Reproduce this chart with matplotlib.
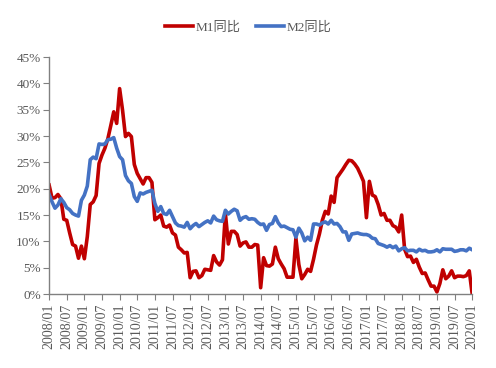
import numpy as np
import matplotlib
matplotlib.use("Agg")
import matplotlib.pyplot as plt
from matplotlib.ticker import FuncFormatter

plt.rcParams['font.family'] = ['Liberation Serif', 'Noto Sans CJK SC']

# M1同比 / M2同比 月度数据 2008/01 - 2020/01 (%)
m1 = [20.7, 18.2, 18.3, 18.9, 18.1, 14.2, 14.0, 11.6, 9.4, 9.1, 6.8, 9.1,
      6.7, 10.9, 17.0, 17.5, 18.7, 24.8, 26.4, 27.7, 29.5, 32.0, 34.6, 32.4,
      39.0, 34.9, 29.9, 30.5, 29.9, 24.6, 22.9, 21.9, 20.9, 22.1, 22.1, 21.2,
      14.1, 14.5, 15.0, 12.9, 12.7, 13.1, 11.6, 11.2, 8.9, 8.4, 7.8, 7.9,
      3.1, 4.3, 4.4, 3.1, 3.5, 4.7, 4.6, 4.5, 7.3, 6.1, 5.5, 6.5,
      15.3, 9.5, 11.9, 11.9, 11.3, 9.1, 9.7, 9.9, 8.9, 8.9, 9.4, 9.3,
      1.2, 6.9, 5.4, 5.3, 5.7, 8.9, 6.7, 5.7, 4.8, 3.2, 3.2, 3.2,
      10.6, 5.6, 2.9, 3.7, 4.7, 4.3, 6.6, 9.3, 11.4, 14.0, 15.7, 15.2,
      18.6, 17.4, 22.1, 22.9, 23.7, 24.6, 25.4, 25.3, 24.7, 23.9, 22.7, 21.4,
      14.5, 21.4, 18.8, 18.5, 17.0, 15.0, 15.3, 14.0, 14.0, 13.0, 12.7, 11.8,
      15.0, 8.5, 7.1, 7.2, 6.0, 6.6, 5.1, 3.9, 4.0, 2.7, 1.5, 1.5,
      0.4, 2.0, 4.6, 2.9, 3.4, 4.4, 3.1, 3.4, 3.4, 3.3, 3.5, 4.4,
      0.0]
m2 = [18.9, 17.5, 16.3, 16.9, 18.1, 17.4, 16.4, 16.0, 15.3, 15.0, 14.8, 17.8,
      18.8, 20.5, 25.5, 26.0, 25.7, 28.5, 28.4, 28.5, 29.3, 29.4, 29.7, 27.7,
      26.1, 25.5, 22.5, 21.5, 21.0, 18.5, 17.6, 19.2, 19.0, 19.3, 19.5, 19.7,
      17.2, 15.7, 16.6, 15.3, 15.1, 15.9, 14.7, 13.5, 13.0, 12.9, 12.7, 13.6,
      12.4, 13.0, 13.4, 12.8, 13.2, 13.6, 13.9, 13.5, 14.8, 14.1, 13.9, 13.8,
      15.9, 15.2, 15.7, 16.1, 15.8, 14.0, 14.5, 14.7, 14.2, 14.3, 14.2, 13.6,
      13.2, 13.3, 12.1, 13.2, 13.4, 14.7, 13.5, 12.8, 12.9, 12.6, 12.3, 12.2,
      10.8, 12.5, 11.6, 10.1, 10.8, 10.2, 13.3, 13.3, 13.1, 13.5, 13.7, 13.3,
      14.0, 13.3, 13.4, 12.8, 11.8, 11.8, 10.2, 11.4, 11.5, 11.6, 11.4, 11.3,
      11.3, 11.1, 10.6, 10.5, 9.6, 9.4, 9.2, 8.9, 9.2, 8.8, 9.1, 8.2,
      8.6, 8.8, 8.2, 8.3, 8.3, 8.0, 8.5, 8.2, 8.3, 8.0, 8.0, 8.1,
      8.4, 8.0, 8.6, 8.5, 8.5, 8.5, 8.1, 8.2, 8.4, 8.4, 8.2, 8.7,
      8.4]

tick_labels = [f"{y}/{m:02d}" for y in range(2008, 2021) for m in (1, 7)][:25]

x = np.arange(len(m1))

fig = plt.figure(figsize=(4.96, 3.68), dpi=100)
ax = fig.add_axes([0.099, 0.201, 0.853, 0.644])

ax.plot(x, m1, color='#C00000', lw=2.6, label='M1同比', solid_joinstyle='round')
ax.plot(x, m2, color='#4472C4', lw=2.6, label='M2同比', solid_joinstyle='round')

ax.set_xlim(0, 144)
ax.set_ylim(0, 45)
ax.set_yticks(np.arange(0, 46, 5))
ax.yaxis.set_major_formatter(FuncFormatter(lambda v, p: f"{v:.0f}%"))
ax.set_xticks(np.arange(0, 145, 6))
ax.set_xticklabels(tick_labels, rotation=90)

for s in ('top', 'right'):
    ax.spines[s].set_visible(False)
for s in ('left', 'bottom'):
    ax.spines[s].set_color('#808080')
    ax.spines[s].set_linewidth(1.0)
ax.tick_params(axis='both', colors='#808080', labelcolor='#595959', length=4)
ax.tick_params(axis='y', labelsize=9.5, pad=2)
ax.tick_params(axis='x', labelsize=10, pad=3)

fig.legend(loc='upper center', bbox_to_anchor=(0.5, 0.975), ncol=2, frameon=False,
           fontsize=9.5, handlelength=2.1, handletextpad=0.2, columnspacing=1.2,
           labelcolor='#595959')

fig.savefig('out.png', dpi=100)
